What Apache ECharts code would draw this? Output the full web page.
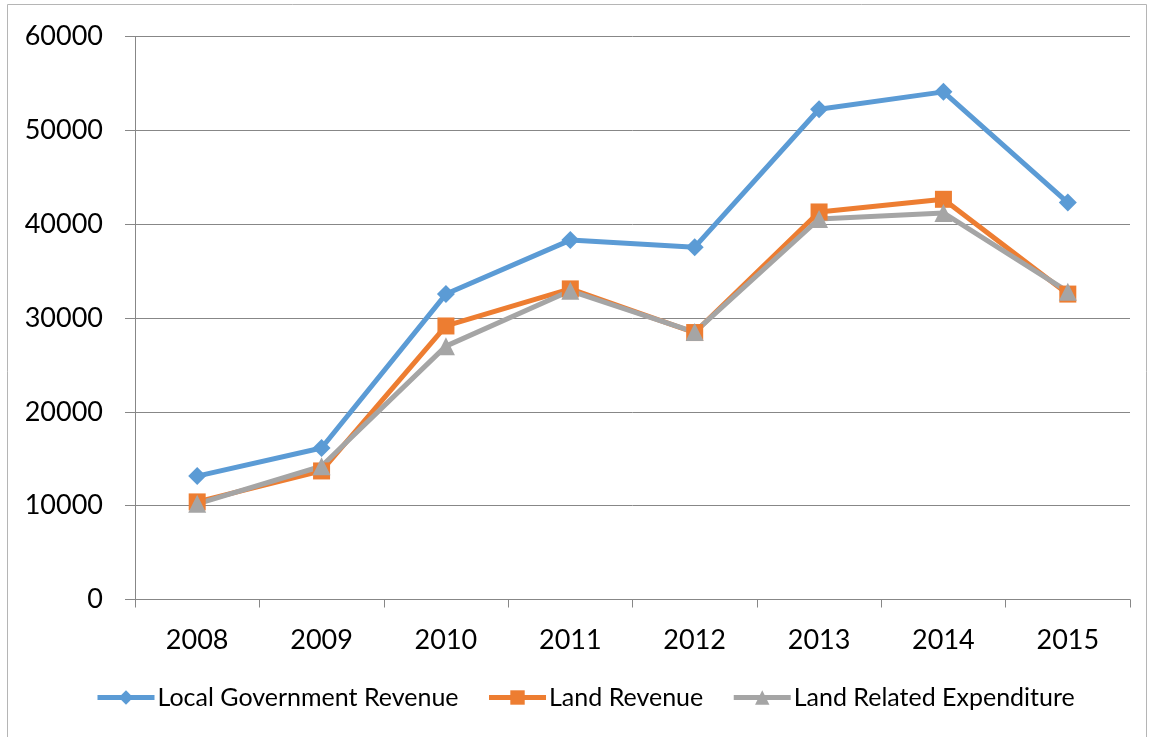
<!DOCTYPE html>
<html><head><meta charset="utf-8">
<script src="https://cdn.jsdelivr.net/npm/echarts@6/dist/echarts.min.js"></script>
<style>html,body{margin:0;padding:0;background:#fff}#c{width:1151px;height:737px}</style>
</head><body><div id="c"></div>
<script>
const years = ['2008','2009','2010','2011','2012','2013','2014','2015'];
const localGovRevenue = [13150, 16150, 32550, 38300, 37550, 52250, 54100, 42300];
const landRevenue = [10400, 13700, 29150, 33100, 28450, 41300, 42650, 32550];
const landRelatedExpenditure = [10200, 14200, 27000, 32900, 28500, 40550, 41200, 32800];
const yTicks = {min: 0, max: 60000, interval: 10000};

const FONT = 'Lato, "Open Sans", sans-serif';
const chart = echarts.init(document.getElementById('c'), null, {renderer: 'canvas'});
const mk = (name, data, color, symbol, size) => ({
  name, type: 'line', data, symbol, symbolSize: size,
  lineStyle: {width: 5, color}, itemStyle: {color},
  emphasis: {disabled: true}, animation: false
});
chart.setOption({
  animation: false,
  graphic: [{type: 'rect', shape: {x: 7.5, y: 4.5, width: 1139, height: 740},
    style: {fill: 'none', stroke: '#b5b5b5', lineWidth: 1}, silent: true}],
  grid: {left: 135, right: 21, top: 36.5, bottom: 137.5, containLabel: false},
  legend: {
    bottom: 22, left: 90, itemWidth: 57, itemHeight: 18, itemGap: 28,
    lineStyle: {width: 5},
    textStyle: {fontFamily: FONT, fontSize: 25, color: '#000', padding: [0, 0, 0, -2]},
    data: ['Local Government Revenue', 'Land Revenue', 'Land Related Expenditure']
  },
  xAxis: {
    type: 'category', data: years, boundaryGap: true,
    axisLine: {lineStyle: {color: '#878787', width: 1}},
    axisTick: {show: true, length: 8, lineStyle: {color: '#878787'}},
    axisLabel: {fontFamily: FONT, fontSize: 27, color: '#000', margin: 27}
  },
  yAxis: {
    type: 'value', min: yTicks.min, max: yTicks.max, interval: yTicks.interval,
    axisLine: {show: true, lineStyle: {color: '#878787', width: 1}},
    axisTick: {show: true, length: 10, lineStyle: {color: '#878787'}},
    splitLine: {lineStyle: {color: '#878787', width: 1}},
    axisLabel: {fontFamily: FONT, fontSize: 27, color: '#000', margin: 32,
      formatter: v => String(v)}
  },
  series: [
    mk('Local Government Revenue', localGovRevenue, '#5B9BD5', 'diamond', 18),
    mk('Land Revenue', landRevenue, '#ED7D31', 'rect', 17),
    mk('Land Related Expenditure', landRelatedExpenditure, '#A5A5A5', 'triangle', 18)
  ]
});
</script></body></html>
